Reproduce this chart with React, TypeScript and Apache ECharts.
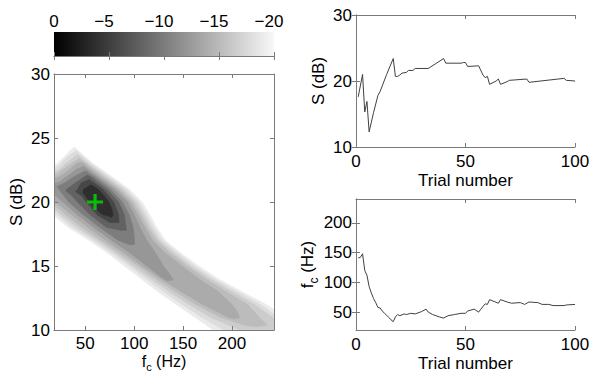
import React, { useEffect, useRef } from 'react';
import * as echarts from 'echarts';

// ---------- Data ----------
// Top-right panel: S (dB) per trial
const sTrials = [1, 3, 4, 5, 6, 8, 10, 11, 14, 17, 18, 19, 20, 21, 23, 24, 26, 27, 33, 40, 41, 48, 49, 50, 51, 56, 58, 59, 60, 61, 64, 65, 66, 69, 70, 78, 79, 95, 96, 100];
const sValues = [17.6, 21.0, 15.3, 16.9, 12.3, 15.2, 17.8, 18.4, 21.0, 23.4, 20.7, 20.7, 20.9, 21.2, 21.3, 21.6, 21.6, 21.9, 21.9, 23.4, 22.7, 22.7, 22.8, 22.8, 22.2, 22.3, 20.9, 20.5, 20.7, 19.5, 20.0, 20.3, 19.5, 19.9, 20.1, 20.3, 19.8, 20.4, 20.1, 20.0];

// Bottom-right panel: fc (Hz) per trial
const fcTrials = [1, 2, 3, 4, 5, 6, 7, 8, 9, 10, 11, 12, 13, 14, 15, 16, 17, 18, 19, 20, 22, 23, 25, 27, 30, 32, 33, 35, 38, 40, 42, 45, 48, 50, 51, 53, 54, 56, 57, 59, 60, 61, 63, 65, 66, 69, 71, 75, 77, 79, 83, 85, 88, 90, 95, 96, 100];
const fcValues = [141, 142, 148, 120, 112, 93, 82, 73, 66, 58, 57, 52, 48, 45, 41, 37, 34, 42, 46, 44, 47, 46, 48, 47, 51, 55, 50, 46, 42, 40, 44, 46, 48, 48, 52, 54, 55, 50, 55, 64, 63, 71, 68, 65, 71, 67, 65, 66, 63, 67, 66, 63, 63, 61, 61, 62, 63];

// Left panel: filled contour regions, [fc (Hz), S (dB)] outlines, outermost first
const contourBand1 = [[18, 22.8], [21, 23], [28, 23.5], [34, 24], [39, 24.3], [43, 24], [58, 23], [77, 22], [95, 21], [108, 20], [116, 19], [123, 18], [132, 17], [148, 16], [166, 15], [186, 14], [210, 13], [235, 12], [243, 11.6], [243, 10], [181, 10], [162, 11], [143, 12], [124, 13], [107, 14], [90, 15], [73, 16], [54, 17], [33, 18], [18, 18.9]];
const contourBand2 = [[18, 22.55], [25, 23], [31, 23.5], [40.5, 24], [56, 23], [74, 22], [92, 21], [105, 20], [113, 19], [120, 18], [129, 17], [145, 16], [162, 15], [182, 14], [205, 13], [229, 12], [243, 11.25], [243, 10], [192, 10], [169, 11], [149, 12], [130, 13], [112, 14], [95, 15], [77, 16], [58, 17], [37, 18], [21, 19], [18, 19.2]];
const contourBand3 = [[18, 22.3], [23, 22.5], [30, 23], [42, 23.7], [53, 23], [71, 22], [89, 21], [102, 20], [110, 19], [117, 18], [126, 17], [141, 16], [158, 15], [178, 14], [200, 13], [223, 12], [243, 10.9], [243, 10], [208, 10], [178, 11], [156, 12], [136, 13], [117, 14], [99, 15], [81, 16], [62, 17], [42, 18], [25, 19], [18, 19.5]];
const contourBand4 = [[18, 22.05], [22, 22.25], [28, 22.6], [36, 23], [44, 23.4], [51, 23], [68, 22], [86, 21], [99, 20], [107, 19], [114, 18], [123, 17], [137, 16], [154, 15], [173, 14], [194, 13], [216, 12], [228, 11], [236, 10.4], [225, 10.25], [212, 10.4], [200, 10.7], [188, 11], [163, 12], [142, 13], [122, 14], [104, 15], [85, 16], [66, 17], [47, 18], [30, 19], [18, 19.8]];
const contourBand5 = [[18, 21.8], [26, 22.1], [33, 22.5], [41, 23], [46, 23.1], [48, 23], [65, 22], [83, 21], [96, 20], [104, 19], [111, 18], [119, 17], [132, 16], [149, 15], [166, 14], [186, 13], [200, 12], [205, 11.5], [208, 10.95], [202, 10.85], [196, 11], [170, 12], [148, 13], [127, 14], [108, 15], [90, 16], [71, 17], [53, 18], [36, 19], [18, 20.1]];
const contourBand6 = [[18, 21.4], [23, 21.55], [31, 22], [40, 22.5], [48, 22.8], [62, 22], [80, 21], [93, 20], [100, 19], [106, 18], [113, 17], [122, 16], [130, 15], [136, 14.4], [140, 13.9], [134, 13.85], [130, 14], [113, 15], [96, 16], [77, 17], [59, 18], [42, 19], [27, 20], [18, 20.6]];
const contourBand7 = [[21, 21.2], [29, 21.5], [39, 22], [50, 22.45], [59, 22], [76, 21], [88, 20], [95, 19], [99, 18], [100, 17.3], [100.5, 16.7], [96, 16.65], [84, 17], [65, 18], [48, 19], [33, 20], [24, 20.9]];
const contourBand8 = [[30, 20.9], [32, 21.05], [40, 21.5], [52, 22.1], [55, 22], [72, 21], [84, 20], [90, 19], [92, 17.8], [86, 17.8], [72, 18], [55, 19], [42, 20], [36, 20.5]];
const contourBand9 = [[40, 20.8], [42, 21], [46, 21.5], [54, 21.75], [68, 21], [79, 20], [84, 19], [84.5, 18.4], [75, 18.4], [62, 19], [51, 20], [46, 20.5]];
const contourCore = [[47.5, 20.7], [48.5, 21], [56, 21.35], [63, 21], [69, 20.5], [74, 20], [77, 19.5], [78.5, 19], [77, 18.8], [72, 18.95], [68, 19], [60, 19.5], [54, 20], [50, 20.5]];

const bestEstimate = [60, 20];

// Tick values
const fcTicks = [50, 100, 150, 200];
const colorbarTicks = [0, -5, -10, -15, -20];

// ---------- Styles ----------
const contourBands = [contourBand1, contourBand2, contourBand3, contourBand4, contourBand5, contourBand6, contourBand7, contourBand8, contourBand9, contourCore];
const bandColors = ['#ebebeb', '#dcdcdc', '#cccccc', '#bcbcbc', '#ababab', '#979797', '#7d7d7d', '#626262', '#474747', '#2e2e2e'];

const FONT = 'Liberation Sans, Arial, Helvetica, sans-serif';
const AX = '#7a7a7a';
const FS = 17;

const tickStyle = { show: true, inside: true, length: 4, lineStyle: { color: AX, width: 1 } };
const lineStyleAx = { show: true, lineStyle: { color: AX, width: 1 } };
const labelStyle = { color: '#000', fontSize: FS, fontFamily: FONT };

function frameAxis(gridIndex: number, position: string, min: number, max: number, extra: any = {}) {
  return {
    type: 'value', gridIndex, position, min, max, z: 5,
    axisLine: lineStyleAx,
    axisTick: tickStyle,
    axisLabel: { show: false },
    splitLine: { show: false },
    ...extra,
  };
}

const subRichX = {
  a: { fontSize: 16, fontFamily: FONT, color: '#000', lineHeight: 17, verticalAlign: 'bottom', padding: [0, 0, 3, 0] },
  s: { fontSize: 11, fontFamily: FONT, color: '#000', lineHeight: 11, verticalAlign: 'bottom' },
};
const subRich = {
  a: { fontSize: FS, fontFamily: FONT, color: '#000', lineHeight: 18, verticalAlign: 'bottom', padding: [0, 0, 4, 0] },
  s: { fontSize: 12, fontFamily: FONT, color: '#000', lineHeight: 12, verticalAlign: 'bottom' },
};
const fcName = '{a|f}{s|c}{a| (Hz)}';

function buildOption(): any {
  const sData = sTrials.map((t, i) => [t, sValues[i]]);
  const fcData = fcTrials.map((t, i) => [t, fcValues[i]]);
  const g = { outerBoundsMode: 'none', containLabel: false };
  return {
    animation: false,
    backgroundColor: '#ffffff',
    grid: [
      { ...g, left: 54, top: 74, width: 220, height: 256 },
      { ...g, left: 356, top: 15, width: 219, height: 132 },
      { ...g, left: 356, top: 199, width: 219, height: 131 },
      { ...g, left: 54, top: 32, width: 220, height: 24 },
    ],
    xAxis: [
      frameAxis(0, 'bottom', 18, 243, {
        axisTick: { ...tickStyle, customValues: fcTicks },
        axisLabel: { ...labelStyle, customValues: fcTicks, margin: 5 },
        name: fcName, nameLocation: 'middle', nameGap: 25, nameMoveOverlap: false,
        nameTextStyle: { rich: subRichX },
      }),
      frameAxis(0, 'top', 18, 243, { axisTick: { ...tickStyle, customValues: fcTicks } }),
      frameAxis(1, 'bottom', 0, 100, {
        interval: 50,
        axisLabel: { ...labelStyle, margin: 6 },
        name: 'Trial number', nameLocation: 'middle', nameGap: 25,
        nameTextStyle: { ...labelStyle },
      }),
      frameAxis(1, 'top', 0, 100, { interval: 50 }),
      frameAxis(2, 'bottom', 0, 100, {
        interval: 50,
        axisLabel: { ...labelStyle, margin: 6 },
        name: 'Trial number', nameLocation: 'middle', nameGap: 25,
        nameTextStyle: { ...labelStyle },
      }),
      frameAxis(2, 'top', 0, 100, { interval: 50 }),
      frameAxis(3, 'top', -20, 0, {
        inverse: true,
        interval: 5,
        axisTick: { ...tickStyle, customValues: colorbarTicks },
        axisLabel: {
          ...labelStyle,
          margin: 2,
          customValues: colorbarTicks,
          formatter: (v: number) => (v === 0 ? '0' : '{m|\u2212}{d|' + Math.abs(v) + '}{p| }'),
          rich: {
            m: { ...labelStyle },
            d: { ...labelStyle },
            p: { ...labelStyle, width: 10 },
          },
        },
      }),
      frameAxis(3, 'bottom', -20, 0, { inverse: true, interval: 5, axisTick: { ...tickStyle, customValues: colorbarTicks } }),
    ],
    yAxis: [
      frameAxis(0, 'left', 10, 30, {
        interval: 5,
        axisLabel: { ...labelStyle, margin: 4 },
        name: 'S (dB)', nameLocation: 'middle', nameGap: 29,
        nameTextStyle: { ...labelStyle },
      }),
      frameAxis(0, 'right', 10, 30, { interval: 5 }),
      frameAxis(1, 'left', 10, 30, {
        interval: 10,
        axisLabel: { ...labelStyle, margin: 4 },
        name: 'S (dB)', nameLocation: 'middle', nameGap: 29,
        nameTextStyle: { ...labelStyle },
      }),
      frameAxis(1, 'right', 10, 30, { interval: 10 }),
      frameAxis(2, 'left', 20, 240, {
        axisTick: { ...tickStyle, customValues: fcTicks },
        axisLabel: { ...labelStyle, margin: 4, customValues: fcTicks },
        name: fcName, nameLocation: 'middle', nameGap: 33,
        nameTextStyle: { rich: subRich },
      }),
      frameAxis(2, 'right', 20, 240, { axisTick: { ...tickStyle, customValues: fcTicks } }),
      { type: 'value', gridIndex: 3, min: 0, max: 1, show: false },
    ],
    series: [
      {
        type: 'custom',
        name: 'likelihood',
        xAxisIndex: 0,
        yAxisIndex: 0,
        clip: true,
        z: 1,
        data: contourBands.map((b) => b[0]),
        renderItem: (params: any, api: any) => {
          const i = params.dataIndex;
          const pts = contourBands[i].map((p) => api.coord(p));
          return {
            type: 'polygon',
            shape: { points: pts },
            style: { fill: bandColors[i], stroke: bandColors[i], lineWidth: 0.6 },
          };
        },
      },
      {
        type: 'scatter',
        xAxisIndex: 0,
        yAxisIndex: 0,
        z: 3,
        data: [bestEstimate],
        symbol: 'path://M5.6,0 L8.4,0 L8.4,5.6 L14,5.6 L14,8.4 L8.4,8.4 L8.4,14 L5.6,14 L5.6,8.4 L0,8.4 L0,5.6 L5.6,5.6 Z',
        symbolSize: 16,
        itemStyle: { color: '#00e000' },
      },
      {
        type: 'line',
        xAxisIndex: 2,
        yAxisIndex: 2,
        data: sData,
        showSymbol: false,
        lineStyle: { color: '#404040', width: 1 },
      },
      {
        type: 'line',
        xAxisIndex: 4,
        yAxisIndex: 4,
        data: fcData,
        showSymbol: false,
        lineStyle: { color: '#404040', width: 1 },
      },
      {
        type: 'custom',
        name: 'colorbar',
        xAxisIndex: 6,
        yAxisIndex: 6,
        z: 1,
        data: [[0, 0]],
        renderItem: (params: any, api: any) => {
          const a = api.coord([0, 1]);
          const b = api.coord([-20, 0]);
          return {
            type: 'rect',
            shape: { x: a[0], y: a[1], width: b[0] - a[0], height: b[1] - a[1] },
            style: {
              fill: new echarts.graphic.LinearGradient(0, 0, 1, 0, [
                { offset: 0, color: '#000000' },
                { offset: 1, color: '#f8f8f8' },
              ]),
            },
          };
        },
      },
    ],
  };
}

export default function App() {
  const ref = useRef<HTMLDivElement>(null);
  useEffect(() => {
    if (!ref.current) return;
    const chart = echarts.init(ref.current, null, { renderer: 'svg' });
    chart.setOption(buildOption());
    return () => chart.dispose();
  }, []);
  return <div ref={ref} style={{ position: 'fixed', left: 0, top: 0, width: 590, height: 375, background: '#fff' }} />;
}
